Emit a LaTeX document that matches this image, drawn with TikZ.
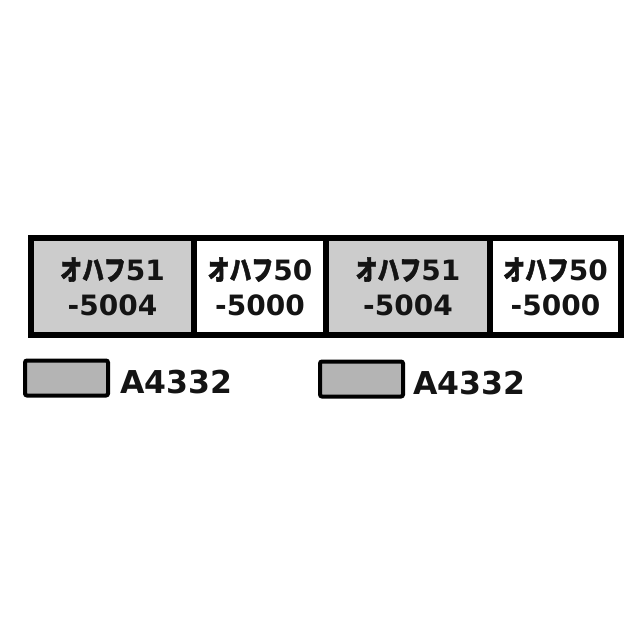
\documentclass[tikz,border=0pt]{standalone}
\usepackage{fontspec}
\setmainfont{DejaVu Sans}
\newfontfamily\jp[FakeBold=2]{Noto Sans CJK JP}
\definecolor{carg}{RGB}{204,204,204}
\definecolor{legg}{RGB}{180,180,180}
\definecolor{ink}{RGB}{20,20,20}
\begin{document}
\begin{tikzpicture}[x=1pt,y=-1pt,
  car/.style={draw=black,line width=6pt,minimum height=97pt,inner sep=0pt,anchor=west,
    align=center,text=ink,font=\fontsize{28}{34}\selectfont\bfseries},
  gcar/.style={car,fill=carg},
  wcar/.style={car,fill=white},
  legbox/.style={draw=black,line width=4pt,fill=legg,rounded corners=2pt,minimum width=83pt,minimum height=35pt,inner sep=0pt},
  legtext/.style={anchor=base west,inner sep=0pt,text=ink,font=\fontsize{31.5}{36}\selectfont\bfseries}]
\useasboundingbox[fill=white] (0,0) rectangle (640,640);
\node[gcar,minimum width=163pt] (c1) at (28,286.5) {{\jp\scalebox{0.78}[1]{オハフ}}51\\[1pt]-5004};
\node[wcar,minimum width=132pt] (c2) at (191,286.5) {{\jp\scalebox{0.78}[1]{オハフ}}50\\[1pt]-5000};
\node[gcar,minimum width=164pt] (c3) at (323,286.5) {{\jp\scalebox{0.78}[1]{オハフ}}51\\[1pt]-5004};
\node[wcar,minimum width=131pt] (c4) at (487,286.5) {{\jp\scalebox{0.78}[1]{オハフ}}50\\[1pt]-5000};
\node[legbox] (l1) at (66.5,378) {};
\node[legtext] (t1) at (120,393) {A4332};
\node[legbox] (l2) at (361.5,379) {};
\node[legtext] (t2) at (413,394) {A4332};
\end{tikzpicture}
\end{document}
